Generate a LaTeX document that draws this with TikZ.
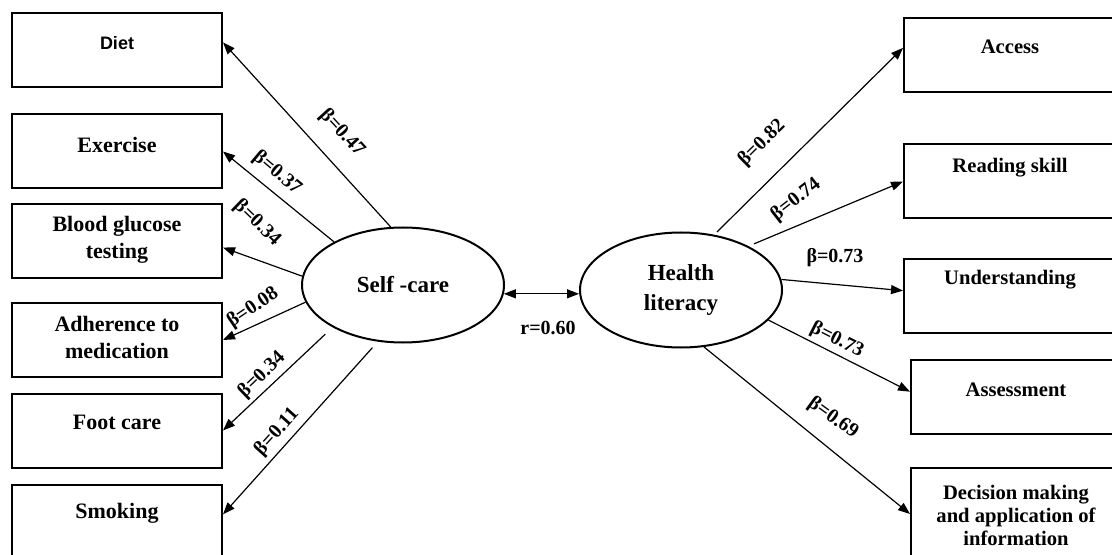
\documentclass[tikz,border=0pt]{standalone}
\usepackage{fontspec}
\setmainfont{Liberation Serif}
\newfontfamily\dietfont{Liberation Sans}
\usetikzlibrary{arrows.meta,shapes.geometric,positioning,calc}

\begin{document}
\begin{tikzpicture}[x=0.5pt,y=-0.5pt]
  \tikzstyle{box}=[draw=black, line width=1pt, rectangle, minimum width=105pt, minimum height=37pt, inner sep=0pt]
  \tikzstyle{rbox}=[box, minimum width=113pt]
  \tikzstyle{latent}=[draw=black, line width=1pt, ellipse, minimum width=101pt, minimum height=57.5pt, inner sep=0pt, align=center, font=\bfseries\fontsize{11.5}{15}\selectfont]
  \tikzstyle{ltext}=[align=center, inner sep=0pt, font=\bfseries\fontsize{11}{13.5}\selectfont]
  \tikzstyle{rtext}=[align=center, inner sep=0pt, font=\bfseries\fontsize{10.3}{11.5}\selectfont]
  \tikzstyle{coef}=[inner sep=0pt, font=\bfseries\fontsize{10}{12}\selectfont]
  \tikzstyle{dep}=[draw=black, line width=0.6pt, -{Triangle[length=6pt,width=4.5pt]}]
  \tikzstyle{corr}=[draw=black, line width=0.6pt, {Triangle[length=6pt,width=4.5pt]}-{Triangle[length=6pt,width=4.5pt]}]
  \def\lx{117}

  \clip (0,0) rectangle (1112,555);

  % latent variables
  \node [latent] (sc) at (403,285) {Self -care};
  \node [latent] (hl) at (681,290) {Health\\literacy};

  % self-care indicators
  \node [box] (diet) at (\lx,50) {};
  \node [box] (exer) at (\lx,151.5) {};
  \node [box] (blood) at (\lx,241.5) {};
  \node [box] (adher) at (\lx,340) {};
  \node [box] (foot) at (\lx,430.5) {};
  \node [box] (smok) at (\lx,522) {};
  \node [inner sep=0pt, font=\dietfont\bfseries\fontsize{9}{11}\selectfont] (tdiet) at (\lx,43) {Diet};
  \node [ltext] (texer) at (\lx,145) {Exercise};
  \node [ltext] (tblood) at (\lx,240) {Blood glucose\\testing};
  \node [ltext] (tadher) at (\lx,337.5) {Adherence to\\medication};
  \node [ltext] (tfoot) at (\lx,422) {Foot care};
  \node [ltext] (tsmok) at (\lx,513) {Smoking};

  % health literacy indicators
  \node [rbox] (access) at (1017,55.5) {};
  \node [rbox] (read) at (1017,181.5) {};
  \node [rbox] (under) at (1017,296) {};
  \node [rbox, minimum width=109.5pt] (assess) at (1020.5,397) {};
  \node [rbox, minimum width=109.5pt, minimum height=46pt] (decis) at (1020.5,514) {};
  \node [rtext] (taccess) at (1010,47) {Access};
  \node [rtext] (tread) at (1010,168) {Reading skill};
  \node [rtext] (tunder) at (1010,280) {Understanding};
  \node [rtext] (tassess) at (1016,390) {Assessment};
  \node [rtext] (tdecis) at (1016,515) {Decision making\\and application of\\information};

  % loadings
  \draw [dep] (sc.102.6) -- ($(diet.north east)!.4!(diet.south east)$);
  \draw [dep] (sc.148.8) -- (exer.east);
  \draw [dep] (sc.175) -- ($(blood.north east)!.58!(blood.south east)$);
  \draw [dep] (sc.190) -- (adher.east);
  \draw [dep,shorten <=5pt] (sc.211) -- (foot.east);
  \draw [dep,shorten <=4pt] (sc.246) -- ($(smok.north east)!.4!(smok.south east)$);
  \draw [dep,shorten <=2pt] (hl.59) -- ($(access.north west)!.4!(access.south west)$);
  \draw [dep,shorten <=3pt] (hl.33.5) -- (read.west);
  \draw [dep] (hl.6.8) -- ($(under.north west)!.43!(under.south west)$);
  \draw [dep] (hl.-19) -- ($(assess.north west)!.43!(assess.south west)$);
  \draw [dep] (hl.292) -- (decis.west);
  \draw [corr] (sc.355) -- (sc.355 -| hl.west);

  % coefficients
  \node [coef, rotate=-47.6] (b47) at (342,133) {β=0.47};
  \node [coef, rotate=-40] (b37) at (277,173) {β=0.37};
  \node [coef, rotate=-44] (b34a) at (257,223) {β=0.34};
  \node [coef, rotate=34] (b08) at (253,308) {β=0.08};
  \node [coef, rotate=44] (b34b) at (262,375) {β=0.34};
  \node [coef, rotate=48] (b11) at (277,432) {β=0.11};
  \node [coef, rotate=44.5] (b82) at (762,143) {β=0.82};
  \node [coef, rotate=38] (b74) at (796,200) {β=0.74};
  \node [coef] (b73a) at (835,258) {β=0.73};
  \node [coef, rotate=-27] (b73b) at (837,340) {β=0.73};
  \node [coef, rotate=-36] (b69) at (833,418) {β=0.69};
  \node [coef] (r60) at (548,328) {r=0.60};
\end{tikzpicture}
\end{document}
